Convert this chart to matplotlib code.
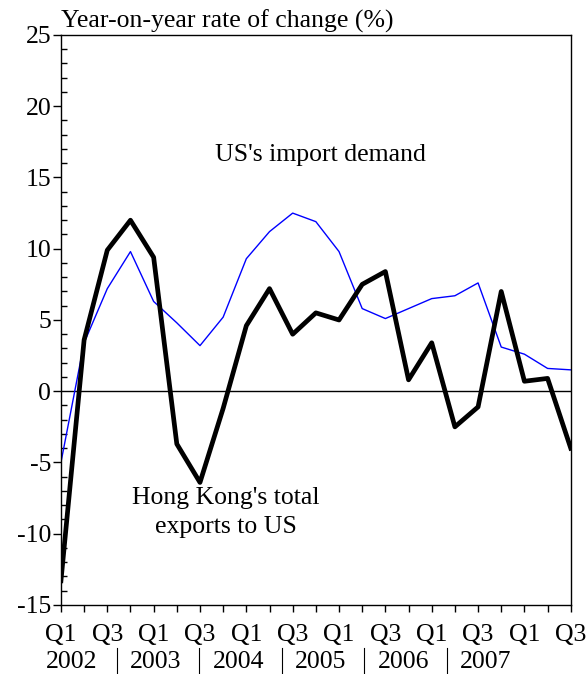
import matplotlib
matplotlib.use("Agg")
import matplotlib.pyplot as plt
import numpy as np

plt.rcParams['font.family'] = ['Liberation Serif', 'DejaVu Serif']
plt.rcParams['axes.unicode_minus'] = False

# quarterly data, Q1 2002 .. Q3 2007
hk_exports = [-13.3, 3.6, 9.9, 12.0, 9.4, -3.7, -6.4, -1.2,
              4.6, 7.2, 4.0, 5.5, 5.0, 7.5, 8.4, 0.8,
              3.4, -2.5, -1.1, 7.0, 0.7, 0.9, -4.0]
us_imports = [-5.0, 3.4, 7.2, 9.8, 6.3, 4.8, 3.2, 5.2,
              9.3, 11.2, 12.5, 11.9, 9.8, 5.8, 5.1, 5.8,
              6.5, 6.7, 7.6, 3.1, 2.6, 1.6, 1.5]
quarter_labels = ['Q1', 'Q3'] * 6
years = ['2002', '2003', '2004', '2005', '2006', '2007']

x = np.arange(len(hk_exports))
fs = 18.5

fig = plt.figure(figsize=(5.86, 6.74), dpi=100)
ax = fig.add_axes([0.104, 0.1024, 0.870, 0.8457])

ax.axhline(0, color='black', lw=1)
ax.plot(x, us_imports, color='blue', lw=1.0)
ax.plot(x, hk_exports, color='black', lw=3.4)

ax.set_xlim(0, len(x) - 1)
ax.set_ylim(-15, 25)
ax.set_yticks(np.arange(-15, 26, 5))
ax.set_yticks(np.arange(-15, 26, 1), minor=True)
ax.set_xticks(x[::2])
ax.set_xticklabels(quarter_labels)
ax.set_xticks(x[1::2], minor=True)
ax.tick_params(axis='y', which='major', direction='out', length=6, width=1,
               labelsize=fs, right=False, pad=1)
ax.tick_params(axis='y', which='minor', direction='in', length=4, width=1,
               right=False)
ax.tick_params(axis='x', which='both', direction='out', length=5, width=1,
               labelsize=fs, top=False, pad=9)

for s in ax.spines.values():
    s.set_linewidth(1)

ax.text(0.0, 1.003, 'Year-on-year rate of change (%)', transform=ax.transAxes,
        fontsize=fs, ha='left', va='bottom')

ax.text(11.2, 16.6, "US's import demand", fontsize=fs, ha='center', va='center')
ax.text(7.1, -7.5, "Hong Kong's total", fontsize=fs, ha='center', va='center')
ax.text(7.1, -9.5, "exports to US", fontsize=fs, ha='center', va='center')

# year labels under the quarter labels
year_pos = [72, 156, 239, 321, 404, 486]
sep_pos = [117, 199, 282, 364, 447]
for p, yr in zip(year_pos, years):
    fig.text(p / 586, 1 - 662 / 674, yr, fontsize=fs, ha='center', va='center')
for p in sep_pos:
    fig.add_artist(plt.Line2D([p / 586, p / 586], [1 - 648 / 674, 1 - 673 / 674],
                              color='black', lw=0.8))

fig.savefig('out.png', dpi=100)
